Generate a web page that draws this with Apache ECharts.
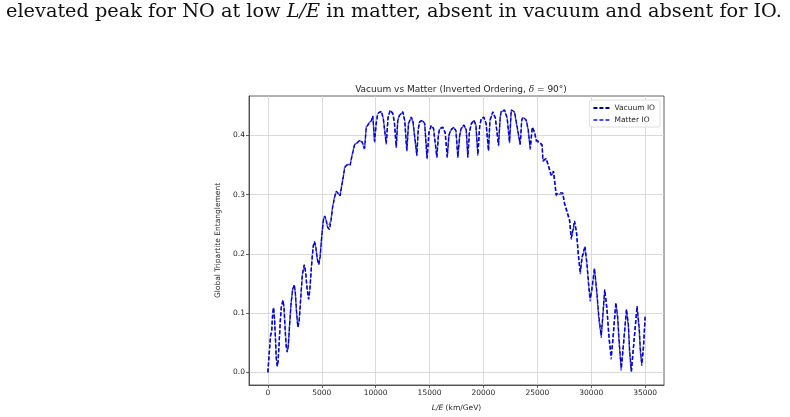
<!DOCTYPE html>
<html>
<head>
<meta charset="utf-8">
<script src="https://cdn.jsdelivr.net/npm/echarts@6/dist/echarts.min.js"></script>
<style>
  html, body { margin: 0; padding: 0; background: #fff; }
  #chart { width: 790px; height: 417px; }
</style>
</head>
<body>
<div id="chart"></div>
<script>
// L/E sample positions (km/GeV)
const lengthOverEnergy = [
  0, 120, 250, 350, 450, 530, 620, 700, 780, 870,
  950, 1050, 1150, 1250, 1400, 1500, 1600, 1700, 1800, 1900,
  2000, 2150, 2300, 2450, 2550, 2650, 2780, 2900, 3050, 3200,
  3380, 3500, 3650, 3780, 3900, 4050, 4200, 4330, 4450, 4600,
  4730, 4850, 5000, 5150, 5270, 5400, 5550, 5720, 5850, 6000,
  6180, 6350, 6500, 6700, 6850, 7000, 7120, 7300, 7420, 7640,
  7800, 8040, 8200, 8350, 8550, 8750, 8970, 9130, 9300, 9450,
  9600, 9740, 9900, 10050, 10200, 10350, 10520, 10700, 10980, 11150,
  11350, 11600, 11750, 11910, 12050, 12220, 12380, 12520, 12700, 12890,
  13050, 13300, 13450, 13610, 13820, 13950, 14070, 14320, 14550, 14770,
  14950, 15160, 15370, 15680, 15820, 15930, 16230, 16450, 16640, 16800,
  16950, 17250, 17450, 17625, 17800, 17940, 18180, 18400, 18550, 18700,
  18870, 19110, 19300, 19480, 19650, 19800, 20040, 20250, 20470, 20600,
  20870, 21100, 21400, 21550, 21650, 21960, 22200, 22420, 22580, 22880,
  23040, 23410, 23550, 23650, 23970, 24150, 24340, 24530, 24740, 24900,
  25200, 25450, 25510, 25820, 26070, 26290, 26500, 26750, 27060, 27360,
  27520, 27990, 28150, 28300, 28450, 28650, 28800, 28980, 29150, 29420,
  29600, 29780, 29900, 30050, 30300, 30500, 30700, 30925, 31050, 31250,
  31450, 31650, 31850, 32000, 32280, 32450, 32600, 32780, 32950, 33270,
  33450, 33550, 33720, 33900, 34250, 34450, 34550, 34690, 34850, 35000
];

const vacuumIO = [
  0.000, 0.030, 0.062, 0.068, 0.100, 0.109, 0.090, 0.060, 0.025, 0.010,
  0.018, 0.050, 0.085, 0.110, 0.122, 0.110, 0.075, 0.045, 0.034, 0.045,
  0.075, 0.115, 0.140, 0.148, 0.135, 0.105, 0.076, 0.085, 0.125, 0.165,
  0.182, 0.170, 0.140, 0.123, 0.140, 0.180, 0.212, 0.221, 0.212, 0.190,
  0.182, 0.195, 0.230, 0.257, 0.264, 0.258, 0.245, 0.241, 0.255, 0.278,
  0.295, 0.306, 0.305, 0.298, 0.315, 0.330, 0.345, 0.350, 0.353, 0.350,
  0.365, 0.384, 0.386, 0.389, 0.392, 0.389, 0.378, 0.414, 0.418, 0.417,
  0.425, 0.433, 0.390, 0.420, 0.437, 0.436, 0.441, 0.430, 0.387, 0.430,
  0.443, 0.437, 0.420, 0.381, 0.425, 0.434, 0.437, 0.440, 0.425, 0.375,
  0.420, 0.431, 0.425, 0.426, 0.367, 0.410, 0.423, 0.426, 0.420, 0.362,
  0.405, 0.417, 0.412, 0.364, 0.400, 0.412, 0.414, 0.405, 0.364, 0.400,
  0.409, 0.414, 0.408, 0.364, 0.400, 0.412, 0.418, 0.410, 0.364, 0.405,
  0.420, 0.426, 0.418, 0.368, 0.415, 0.429, 0.431, 0.420, 0.375, 0.425,
  0.440, 0.430, 0.384, 0.430, 0.441, 0.443, 0.430, 0.389, 0.443, 0.440,
  0.437, 0.385, 0.425, 0.431, 0.426, 0.410, 0.378, 0.414, 0.406, 0.392,
  0.389, 0.384, 0.358, 0.361, 0.347, 0.333, 0.340, 0.300, 0.303, 0.303,
  0.286, 0.258, 0.227, 0.240, 0.256, 0.235, 0.200, 0.170, 0.195, 0.213,
  0.185, 0.145, 0.125, 0.140, 0.176, 0.140, 0.095, 0.063, 0.090, 0.140,
  0.110, 0.060, 0.027, 0.055, 0.118, 0.095, 0.050, 0.007, 0.040, 0.107,
  0.080, 0.040, 0.002, 0.040, 0.112, 0.075, 0.040, 0.014, 0.045, 0.095
];

const matterIO = [
  0.000, 0.031, 0.063, 0.069, 0.101, 0.110, 0.089, 0.058, 0.024, 0.011,
  0.020, 0.052, 0.087, 0.111, 0.121, 0.108, 0.073, 0.044, 0.035, 0.047,
  0.077, 0.116, 0.141, 0.147, 0.133, 0.103, 0.077, 0.087, 0.126, 0.166,
  0.181, 0.168, 0.139, 0.124, 0.142, 0.181, 0.213, 0.220, 0.210, 0.189,
  0.183, 0.197, 0.231, 0.258, 0.263, 0.257, 0.244, 0.242, 0.256, 0.279,
  0.296, 0.305, 0.304, 0.299, 0.316, 0.331, 0.346, 0.351, 0.352, 0.351,
  0.366, 0.385, 0.387, 0.388, 0.391, 0.388, 0.376, 0.415, 0.419, 0.416,
  0.426, 0.432, 0.388, 0.421, 0.438, 0.435, 0.440, 0.429, 0.385, 0.431,
  0.442, 0.436, 0.419, 0.379, 0.426, 0.435, 0.436, 0.439, 0.424, 0.373,
  0.421, 0.430, 0.424, 0.425, 0.365, 0.411, 0.422, 0.425, 0.419, 0.360,
  0.406, 0.416, 0.411, 0.362, 0.401, 0.411, 0.413, 0.404, 0.362, 0.401,
  0.408, 0.413, 0.407, 0.362, 0.401, 0.411, 0.417, 0.409, 0.362, 0.406,
  0.419, 0.425, 0.417, 0.366, 0.416, 0.428, 0.430, 0.419, 0.373, 0.426,
  0.439, 0.429, 0.382, 0.431, 0.440, 0.442, 0.429, 0.387, 0.442, 0.439,
  0.436, 0.383, 0.426, 0.430, 0.425, 0.409, 0.376, 0.413, 0.405, 0.390,
  0.388, 0.382, 0.356, 0.360, 0.345, 0.331, 0.338, 0.298, 0.301, 0.301,
  0.284, 0.255, 0.224, 0.238, 0.253, 0.232, 0.197, 0.166, 0.192, 0.210,
  0.181, 0.141, 0.120, 0.137, 0.173, 0.136, 0.091, 0.058, 0.087, 0.137,
  0.106, 0.056, 0.022, 0.052, 0.115, 0.091, 0.046, 0.003, 0.037, 0.104,
  0.076, 0.036, 0.000, 0.037, 0.109, 0.071, 0.036, 0.011, 0.042, 0.092
];

const xTicks = [0, 5000, 10000, 15000, 20000, 25000, 30000, 35000];
const yTicks = [0, 0.1, 0.2, 0.3, 0.4];
const seriesNames = ['Vacuum IO', 'Matter IO'];

const FONT = 'DejaVu Sans';
const INK = '#262626';
const SPINE = '#3a3a3a';

const chart = echarts.init(document.getElementById('chart'), null, { renderer: 'canvas' });

const option = {
  animation: false,
  backgroundColor: '#fff',
  title: {
    text: 'Vacuum vs Matter (Inverted Ordering, {i|δ} = 90°)',
    left: 456,
    top: 80,
    textAlign: 'center',
    textStyle: {
      fontFamily: FONT, fontSize: 9, fontWeight: 'normal', color: INK,
      rich: { i: { fontFamily: 'DejaVu Serif', fontStyle: 'italic', fontSize: 9, color: INK } }
    }
  },
  graphic: [
    {
      // 上方正文残留的一行
      type: 'text',
      left: 6,
      top: 2,
      style: {
        text: 'elevated peak for NO at low {i|L/E} in matter, absent in vacuum and absent for IO.',
        fontFamily: 'DejaVu Serif',
        fontSize: 19.3,
        fill: '#111',
        rich: { i: { fontFamily: 'DejaVu Serif', fontStyle: 'italic', fontSize: 19.3, fill: '#111' } }
      }
    }
  ],
  legend: {
    data: seriesNames,
    orient: 'vertical',
    right: 130,
    top: 100,
    itemWidth: 18,
    itemHeight: 8,
    itemGap: 4,
    padding: [4, 5, 3, 3],
    borderColor: '#d5d5d5',
    borderWidth: 0.8,
    borderRadius: 2,
    backgroundColor: 'rgba(255,255,255,0.8)',
    itemStyle: { opacity: 0 },
    textStyle: { fontFamily: FONT, fontSize: 7.5, color: INK, padding: [0, 0, 0, -2] }
  },
  grid: {
    left: 249, right: 126, top: 96, bottom: 31,
    show: true, borderColor: SPINE, borderWidth: 0.8, backgroundColor: 'transparent'
  },
  xAxis: {
    type: 'value',
    min: -1750,
    max: 36750,
    name: '{i|L/E} (km/GeV)',
    nameLocation: 'middle',
    nameGap: 19,
    nameTextStyle: {
      fontFamily: FONT, fontSize: 7.5, color: INK,
      rich: { i: { fontFamily: FONT, fontStyle: 'italic', fontSize: 7.5, color: INK } }
    },
    axisLine: { show: true, onZero: false, lineStyle: { color: SPINE, width: 0.8 } },
    axisTick: { show: true, customValues: xTicks, length: 3, lineStyle: { color: SPINE, width: 0.8 } },
    axisLabel: {
      customValues: xTicks, fontFamily: FONT, fontSize: 7.5, color: INK, margin: 4,
      formatter: v => String(v)
    },
    splitLine: { show: true, lineStyle: { color: '#d0d0d0', width: 0.8 } }
  },
  yAxis: {
    type: 'value',
    min: -0.0213,
    max: 0.4666,
    name: 'Global Tripartite Entanglement',
    nameLocation: 'middle',
    nameRotate: 90,
    nameGap: 16,
    nameTextStyle: { fontFamily: FONT, fontSize: 7.5, color: INK },
    axisLine: { show: true, onZero: false, lineStyle: { color: SPINE, width: 0.8 } },
    axisTick: { show: true, customValues: yTicks, length: 3, lineStyle: { color: SPINE, width: 0.8 } },
    axisLabel: {
      customValues: yTicks, fontFamily: FONT, fontSize: 7.5, color: INK, margin: 4,
      formatter: v => v.toFixed(1)
    },
    splitLine: { show: true, lineStyle: { color: '#d0d0d0', width: 0.8 } }
  },
  series: [
    {
      name: seriesNames[0],
      type: 'line',
      symbol: 'none',
      color: '#00008b',
      lineStyle: { width: 1.4, type: [4, 2], color: '#00008b' },
      data: lengthOverEnergy.map((x, i) => [x, vacuumIO[i]])
    },
    {
      name: seriesNames[1],
      type: 'line',
      symbol: 'none',
      color: 'rgba(0,0,255,0.7)',
      lineStyle: { width: 1.4, type: [4, 2], color: 'rgba(0,0,255,0.7)' },
      data: lengthOverEnergy.map((x, i) => [x, matterIO[i]])
    }
  ]
};

chart.setOption(option);
</script>
</body>
</html>
